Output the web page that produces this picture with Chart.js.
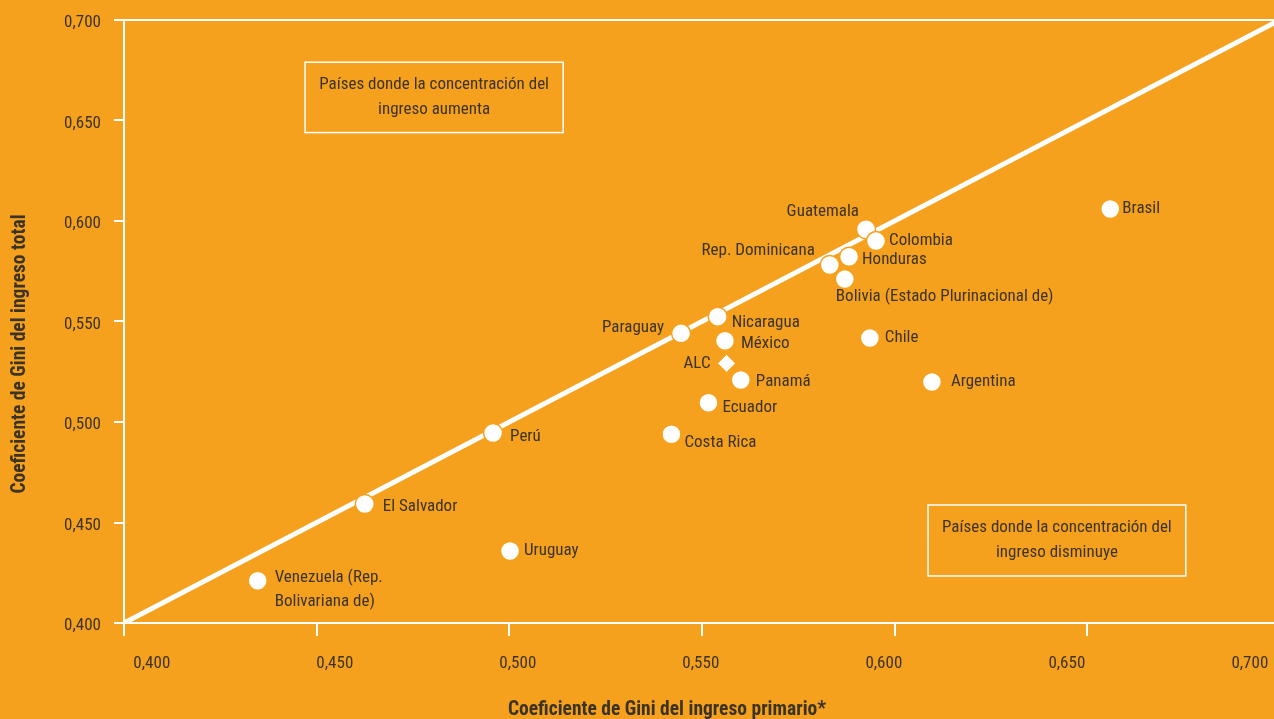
<!DOCTYPE html>
<html>
<head>
<meta charset="utf-8">
<script src="https://cdn.jsdelivr.net/npm/chart.js@4.4.0/dist/chart.umd.min.js"></script>
<style>
  html, body { margin: 0; padding: 0; background: #f6a11d; overflow: hidden; }
  #wrap { width: 1274px; height: 719px; }
</style>
</head>
<body>
<div id="wrap"><canvas id="gini"></canvas></div>
<script>
// data
const countries = [
  "Brasil", "Guatemala", "Colombia", "Honduras", "Rep. Dominicana",
  "Bolivia (Estado Plurinacional de)", "Nicaragua", "Paraguay", "México",
  "Panamá", "Ecuador", "Costa Rica", "Chile", "Argentina", "Perú",
  "El Salvador", "Uruguay", "Venezuela (Rep.\nBolivariana de)",
];
const giniPrimario = [
  0.656, 0.5926, 0.5952, 0.5882, 0.5832,
  0.5871, 0.5541, 0.5446, 0.556,
  0.5601, 0.5517, 0.5421, 0.5936, 0.6097, 0.4958,
  0.4625, 0.5002, 0.4347,
];
const giniTotal = [
  0.606, 0.5959, 0.59, 0.5822, 0.5781,
  0.5711, 0.5524, 0.5441, 0.5404,
  0.5209, 0.5096, 0.4939, 0.5418, 0.5199, 0.4945,
  0.4592, 0.4358, 0.421,
];
const alcName = "ALC";
const alcPrimario = [0.5564];
const alcTotal = [0.5292];
const tickValues = [0.4, 0.45, 0.5, 0.55, 0.6, 0.65, 0.7];
const noteTexts = [
  ["Países donde la concentración del", "ingreso aumenta"],
  ["Países donde la concentración del", "ingreso disminuye"],
];
const xTitle = "Coeficiente de Gini del ingreso primario*";
const yTitle = "Coeficiente de Gini del ingreso total";

// look
const ORANGE = "#f6a11d";
const TEXT = "#3b3326";
const FONT = "'Liberation Sans Narrow', 'Roboto Condensed', Roboto, sans-serif";

// label placement relative to its point: [dx, dy, align]
const labelPlace = {
  "Brasil": [12, 0, "left"],
  "Guatemala": [-7, -17, "right"],
  "Colombia": [13, 0, "left"],
  "Honduras": [13, 3, "left"],
  "Rep. Dominicana": [-15, -14, "right"],
  "Bolivia (Estado Plurinacional de)": [-9, 18, "left"],
  "Nicaragua": [14, 6, "left"],
  "Paraguay": [-17, -6, "right"],
  "México": [16, 3, "left"],
  "Panamá": [15, 2, "left"],
  "Ecuador": [14, 5, "left"],
  "Costa Rica": [13, 8, "left"],
  "Chile": [15, 0, "left"],
  "Argentina": [19, 0, "left"],
  "Perú": [17, 4, "left"],
  "El Salvador": [18, 3, "left"],
  "Uruguay": [14, 0, "left"],
  "Venezuela (Rep.\nBolivariana de)": [17, -3, "left"],
  "ALC": [-16, 0, "right"],
};
// note boxes in data units
const noteBoxes = [
  { x0: 0.447, x1: 0.514, y0: 0.679, y1: 0.644 },
  { x0: 0.6087, x1: 0.6756, y0: 0.4587, y1: 0.4234 },
];

const fmt = (v) => Number(v).toFixed(3).replace(".", ",");

const textLayer = {
  id: "textLayer",
  afterDatasetsDraw(chart) {
    const { ctx, scales } = chart;
    ctx.save();
    ctx.fillStyle = TEXT;
    ctx.textBaseline = "middle";
    ctx.font = "17px " + FONT;

    const drawLabel = (name, pt) => {
      const [dx, dy, align] = labelPlace[name] || [12, 0, "left"];
      ctx.textAlign = align;
      name.split("\n").forEach((line, k) => {
        ctx.fillText(line, pt.x + dx, pt.y + dy + k * 24);
      });
    };
    chart.getDatasetMeta(1).data.forEach((pt, i) => drawLabel(countries[i], pt));
    chart.getDatasetMeta(2).data.forEach((pt) => drawLabel(alcName, pt));

    // note boxes
    ctx.strokeStyle = "#fff";
    ctx.lineWidth = 1.5;
    ctx.textAlign = "center";
    noteBoxes.forEach((b, i) => {
      const l = scales.x.getPixelForValue(b.x0);
      const r = scales.x.getPixelForValue(b.x1);
      const t = scales.y.getPixelForValue(b.y0);
      const bt = scales.y.getPixelForValue(b.y1);
      ctx.strokeRect(l, t, r - l, bt - t);
      const cy = (t + bt) / 2;
      noteTexts[i].forEach((line, k) => {
        ctx.fillText(line, (l + r) / 2, cy + (k - 0.5) * 25);
      });
    });

    // axis titles
    ctx.font = "bold 19.5px " + FONT;
    ctx.fillText(xTitle, 667, 710);
    ctx.translate(20, 354);
    ctx.rotate(-Math.PI / 2);
    ctx.fillText(yTitle, 0, 0);
    ctx.restore();
  },
};

new Chart(document.getElementById("gini"), {
  data: {
    datasets: [
      {
        type: "line",
        data: [{ x: 0.4, y: 0.4 }, { x: 0.7, y: 0.7 }],
        borderColor: "#fff",
        borderWidth: 5,
        pointRadius: 0,
        order: 3,
      },
      {
        type: "scatter",
        data: countries.map((c, i) => ({ x: giniPrimario[i], y: giniTotal[i] })),
        pointStyle: "circle",
        pointRadius: 9.5,
        backgroundColor: "#fff",
        borderColor: ORANGE,
        borderWidth: 1.5,
        order: 1,
      },
      {
        type: "scatter",
        data: alcPrimario.map((v, i) => ({ x: v, y: alcTotal[i] })),
        pointStyle: "rectRot",
        pointRadius: 9,
        backgroundColor: "#fff",
        borderColor: ORANGE,
        borderWidth: 1,
        order: 2,
      },
    ],
  },
  options: {
    responsive: true,
    maintainAspectRatio: false,
    animation: false,
    events: [],
    // no auto padding for point overflow, the plot runs to the right edge
    layout: { autoPadding: false, padding: { top: 20, right: 0, bottom: 0, left: 0 } },
    plugins: { legend: { display: false }, tooltip: { enabled: false } },
    scales: {
      x: {
        type: "linear",
        position: "bottom",
        weight: 0,
        min: 0.4,
        max: 0.6985,
        afterBuildTicks: (s) => {
          s.ticks = tickValues.filter((v) => v <= s.max).map((v) => ({ value: v }));
        },
        grid: { drawOnChartArea: false, tickLength: 13, tickColor: "#fff", lineWidth: 2 },
        border: { color: "#fff", width: 2 },
        ticks: { display: false },
        afterFit: (s) => {
          s.height = 13;
          s.paddingLeft = 0;
          s.paddingRight = 0;
        },
      },
      // tick labels of the x axis sit a little apart from the tick marks in the original
      xl: {
        type: "linear",
        position: "bottom",
        weight: 1,
        min: 0.3924,
        max: 0.7066,
        afterBuildTicks: (s) => {
          s.ticks = tickValues.map((v) => ({ value: v }));
        },
        grid: { display: false, drawTicks: false },
        border: { display: false },
        ticks: {
          padding: 18,
          color: TEXT,
          font: { family: FONT, size: 17 },
          maxRotation: 0,
          autoSkip: false,
          callback: fmt,
        },
        afterFit: (s) => {
          s.height = 83;
          s.paddingLeft = 0;
          s.paddingRight = 0;
        },
      },
      y: {
        type: "linear",
        min: 0.4,
        max: 0.7,
        afterBuildTicks: (s) => {
          s.ticks = tickValues.map((v) => ({ value: v }));
        },
        grid: {
          color: (c) => (c.tick && Math.abs(c.tick.value - 0.7) < 1e-6 ? "#fff" : "rgba(0,0,0,0)"),
          tickColor: "#fff",
          tickLength: 10,
          lineWidth: 2,
        },
        border: { color: "#fff", width: 2 },
        ticks: {
          padding: 13,
          labelOffset: 3,
          color: TEXT,
          font: { family: FONT, size: 17 },
          callback: fmt,
        },
        afterFit: (s) => {
          s.width = 124;
          s.paddingTop = 0;
          s.paddingBottom = 0;
        },
      },
    },
  },
  plugins: [textLayer],
});
</script>
</body>
</html>
